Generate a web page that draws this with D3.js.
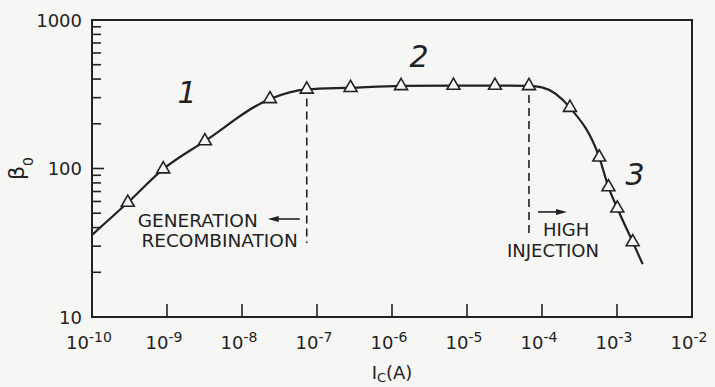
<!DOCTYPE html>
<html>
<head>
<meta charset="utf-8">
<script src="https://cdn.jsdelivr.net/npm/d3@7"></script>
<style>
  html, body { margin: 0; padding: 0; background: #f6f6f4; }
  svg { display: block; }
  text { font-family: "DejaVu Sans", sans-serif; fill: #222; }
</style>
</head>
<body>
<svg id="chart" width="715" height="387"></svg>
<script>
// collector current (A) and current gain
var markerI = [3.0e-10, 8.9e-10, 3.2e-9, 2.36e-8, 7.3e-8, 2.8e-7, 1.32e-6, 6.6e-6, 2.36e-5, 6.7e-5, 2.36e-4, 5.8e-4, 7.7e-4, 1.01e-3, 1.62e-3];
var markerB = [59, 99, 153, 294, 341, 350, 360, 362, 362, 360, 257, 119, 75, 54, 32];

// the drawn curve (its ends run past the first and last marker)
var curveI = [1e-10, 3.0e-10, 8.9e-10, 3.2e-9, 2.36e-8, 7.3e-8, 2.8e-7, 1.32e-6, 6.6e-6, 2.36e-5, 6.7e-5, 1.0e-4, 2.36e-4, 5.8e-4, 7.7e-4, 1.01e-3, 1.62e-3, 2.2e-3];
var curveB = [35.7, 59, 99, 153, 294, 341, 350, 360, 362, 362, 360, 352, 257, 119, 75, 54, 32, 22.7];

// region boundaries (dashed lines): current, top and bottom gain
var boundI = [7.3e-8, 6.7e-5];
var boundB = [341, 360];
var boundLow = [31.5, 34.6];

// region numbers and where they sit
var regionLabels = ["1", "2", "3"];
var regionI = [1.85e-9, 2.3e-6, 1.74e-3];
var regionB = [276, 483, 77.4];

var xTicks = [1e-10, 1e-9, 1e-8, 1e-7, 1e-6, 1e-5, 1e-4, 1e-3, 1e-2];
var xExp = ["-10", "-9", "-8", "-7", "-6", "-5", "-4", "-3", "-2"];
var yMajor = [10, 100, 1000];
var yMinor = [20, 30, 40, 50, 60, 70, 80, 90, 200, 300, 400, 500, 600, 700, 800, 900];

var margin = { top: 20, right: 23, bottom: 70, left: 92 };
var width = 715, height = 387;
var svg = d3.select("#chart");
var ink = "#222";

var x = d3.scaleLog().domain([1e-10, 1e-2]).range([margin.left, width - margin.right]);
var y = d3.scaleLog().domain([10, 1000]).range([height - margin.bottom, margin.top]);

var x0 = x.range()[0], x1 = x.range()[1];
var y0 = y.range()[0], y1 = y.range()[1];

// frame
svg.append("path")
  .attr("d", "M" + x0 + "," + y0 + "V" + y1 + "H" + x1 + "V" + y0 + "Z")
  .attr("fill", "none").attr("stroke", ink).attr("stroke-width", 2);

// y ticks (inward)
var yg = svg.append("g");
yg.selectAll("line.minor").data(yMinor).enter().append("line")
  .attr("x1", x0).attr("x2", x0 + 9)
  .attr("y1", d => y(d)).attr("y2", d => y(d))
  .attr("stroke", ink).attr("stroke-width", 1.6);
yg.selectAll("line.major").data([100]).enter().append("line")
  .attr("x1", x0).attr("x2", x0 + 12)
  .attr("y1", d => y(d)).attr("y2", d => y(d))
  .attr("stroke", ink).attr("stroke-width", 1.6);
yg.selectAll("text").data(yMajor).enter().append("text")
  .attr("x", x0 - 10).attr("y", d => y(d) + 6.5)
  .attr("text-anchor", "end").attr("font-size", 18)
  .text(d => d);

// x ticks (inward) and labels
var xg = svg.append("g");
xg.selectAll("line").data(xTicks.slice(1, -1)).enter().append("line")
  .attr("x1", d => x(d)).attr("x2", d => x(d))
  .attr("y1", y0).attr("y2", y0 - 13)
  .attr("stroke", ink).attr("stroke-width", 1.6);
var xl = xg.selectAll("text").data(xTicks).enter().append("text")
  .attr("x", d => x(d) - 3).attr("y", y0 + 32)
  .attr("text-anchor", "middle").attr("font-size", 18);
xl.append("tspan").text("10");
xl.append("tspan").attr("font-size", 14).attr("dy", -7).text((d, i) => xExp[i]);

// axis titles
var xt = svg.append("text")
  .attr("x", (x0 + x1) / 2).attr("y", y0 + 62)
  .attr("text-anchor", "middle").attr("font-size", 18);
xt.append("tspan").text("I");
xt.append("tspan").attr("font-size", 13).attr("dy", 3).text("C");
xt.append("tspan").attr("dy", -3).text("(A)");

var yt = svg.append("text")
  .attr("transform", "translate(24," + y(100) + ") rotate(-90)")
  .attr("text-anchor", "middle").attr("font-size", 22);
yt.append("tspan").text("\u03b2");
yt.append("tspan").attr("font-size", 14).attr("dy", 9).text("0");

// curve
var curve = curveI.map((d, i) => [d, curveB[i]]);
var line = d3.line()
  .x(d => x(d[0]))
  .y(d => y(d[1]))
  .curve(d3.curveMonotoneX);
svg.append("path")
  .datum(curve)
  .attr("d", line)
  .attr("fill", "none").attr("stroke", ink).attr("stroke-width", 2.2);

// dashed region boundaries
svg.selectAll("line.bound").data(boundI).enter().append("line")
  .attr("x1", d => x(d)).attr("x2", d => x(d))
  .attr("y1", (d, i) => y(boundB[i]) + 9).attr("y2", (d, i) => y(boundLow[i]))
  .attr("stroke", ink).attr("stroke-width", 1.6)
  .attr("stroke-dasharray", "8,5");

// markers
var tri = d3.symbol().type(d3.symbolTriangle).size(72);
svg.selectAll("path.m").data(markerI).enter().append("path")
  .attr("d", tri)
  .attr("transform", (d, i) => "translate(" + x(d) + "," + y(markerB[i]) + ")")
  .attr("fill", "#f6f6f4").attr("stroke", ink).attr("stroke-width", 1.6);

// region numbers
svg.selectAll("text.region").data(regionLabels).enter().append("text")
  .attr("x", (d, i) => x(regionI[i])).attr("y", (d, i) => y(regionB[i]))
  .attr("text-anchor", "middle").attr("font-size", 30)
  .attr("font-style", "italic").attr("font-weight", 200)
  .text(d => d);

// annotations beside the dashed lines
function arrow(xa, xb, yy) {
  var dir = xb > xa ? 1 : -1;
  svg.append("line").attr("x1", xa).attr("x2", xb - dir * 8)
    .attr("y1", yy).attr("y2", yy).attr("stroke", ink).attr("stroke-width", 1.6);
  svg.append("path")
    .attr("d", "M" + xb + "," + yy + "L" + (xb - dir * 11) + "," + (yy - 3) + "L" + (xb - dir * 11) + "," + (yy + 3) + "Z")
    .attr("fill", ink);
}
var gx = x(boundI[0]), hx = x(boundI[1]);
var gy = y(boundLow[0]), hy = y(boundLow[1]);

svg.append("text").attr("x", gx - 49).attr("y", gy - 16)
  .attr("text-anchor", "end").attr("font-size", 18.5).text("GENERATION");
svg.append("text").attr("x", gx - 9).attr("y", gy + 4)
  .attr("text-anchor", "end").attr("font-size", 18.5).text("RECOMBINATION");
arrow(gx - 7, gx - 39, gy - 24);

svg.append("text").attr("x", hx + 14).attr("y", hy - 1)
  .attr("font-size", 18).text("HIGH");
svg.append("text").attr("x", hx - 22).attr("y", hy + 20)
  .attr("font-size", 18).text("INJECTION");
arrow(hx + 9, hx + 38, hy - 25);
</script>
</body>
</html>
